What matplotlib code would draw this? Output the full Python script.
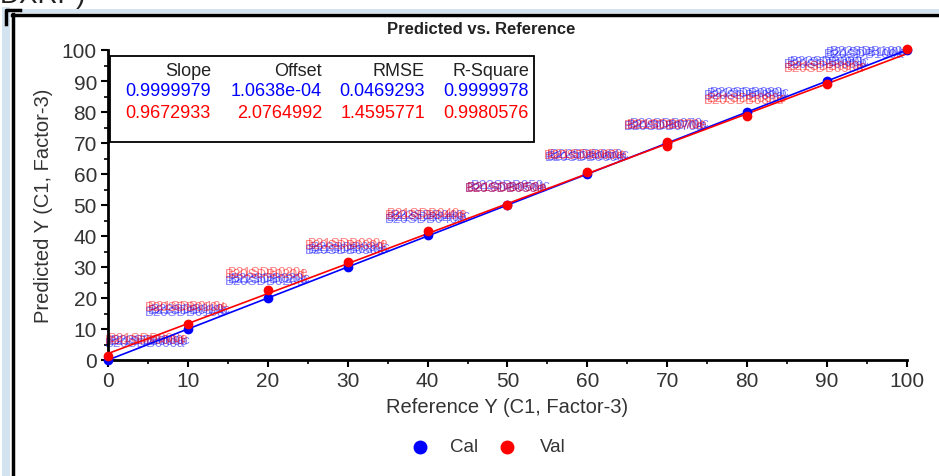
import matplotlib
matplotlib.use("Agg")
import matplotlib.pyplot as plt
from matplotlib.patches import Rectangle
from matplotlib.lines import Line2D
import numpy as np

# ---- data ----
ref_levels = [0, 10, 20, 30, 40, 50, 60, 70, 80, 90, 100]
cal_pred = [0.1, 10.1, 20.1, 30.0, 40.2, 50.0, 60.0, 70.0, 80.1, 90.1, 100.0]
val_ref = [0, 10, 20, 30, 40, 50, 60, 70, 70, 80, 90, 100]
val_pred = [1.2, 11.6, 22.5, 31.7, 41.5, 50.0, 60.6, 70.3, 68.9, 78.6, 88.9, 100.3]

cal_slope, cal_offset = 0.9999979, 1.0638e-04
val_slope, val_offset = 0.9672933, 2.0764992

stat_headers = ["Slope", "Offset", "RMSE", "R-Square"]
cal_stats = ["0.9999979", "1.0638e-04", "0.0469293", "0.9999978"]
val_stats = ["0.9672933", "2.0764992", "1.4595771", "0.9980576"]

cal_suffixes = ["a", "b", "c"]
val_suffixes = ["d", "e"]

x_ticks = [0, 10, 20, 30, 40, 50, 60, 70, 80, 90, 100]
y_ticks = [0, 10, 20, 30, 40, 50, 60, 70, 80, 90, 100]

BLUE = "#0000ff"
RED = "#ff0000"
TXT = "#333333"

W, H = 939, 477
fig = plt.figure(figsize=(W / 100, H / 100), dpi=100)
plt.rcParams['font.family'] = ['Liberation Sans', 'DejaVu Sans']

def fx(px):
    return px / W

def fy(py):
    return 1 - py / H

# ---- outer frame decorations ----
fig.patches.append(Rectangle((fx(20), fy(14)), fx(919), 4 / H, transform=fig.transFigure,
                             facecolor="#d4e3f0", edgecolor="none", zorder=0))
fig.patches.append(Rectangle((fx(2), 0), fx(8), fy(8), transform=fig.transFigure,
                             facecolor="#d4e3f0", edgecolor="none", zorder=0))
fig.lines.append(Line2D([fx(13), fx(13)], [0, fy(15)], transform=fig.transFigure,
                        color="black", lw=2.5))
fig.lines.append(Line2D([fx(12), 1], [fy(16), fy(16)], transform=fig.transFigure,
                        color="black", lw=2.5))
fig.lines.append(Line2D([fx(6), fx(6), fx(20)], [fy(25), fy(11), fy(11)], transform=fig.transFigure,
                        color="black", lw=2.5))
fig.text(fx(0), fy(-4), "DXRP)", fontsize=20, color="#222222", ha="left", va="center")

fig.text(fx(481), fy(30), "Predicted vs. Reference", fontsize=12, color="#222222",
         ha="center", va="center", fontweight="bold")

# ---- axes ----
ax = fig.add_axes([fx(108), fy(361), fx(907) - fx(108), fy(51) - fy(361)])
ax.set_xlim(0, 100)
ax.set_ylim(0, 100)
for s in ["top", "right"]:
    ax.spines[s].set_visible(False)
for s in ["left", "bottom"]:
    ax.spines[s].set_linewidth(2)
ax.set_xticks(x_ticks)
ax.set_yticks(y_ticks)
ax.set_xticks(np.arange(5, 100, 10), minor=True)
ax.set_yticks(np.arange(5, 100, 10), minor=True)
ax.tick_params(which="major", length=5, width=1.5, labelsize=15, labelcolor=TXT, pad=3)
ax.tick_params(which="minor", length=3, width=1.2)
ax.set_xlabel("Reference Y (C1, Factor-3)", fontsize=14.5, color=TXT, labelpad=5)
ax.set_ylabel("Predicted Y (C1, Factor-3)", fontsize=14.5, color=TXT, labelpad=6)

xx = np.array([0, 100])
ax.plot(xx, cal_slope * xx + cal_offset, color=BLUE, lw=1.2, zorder=3)
ax.plot(xx, val_slope * xx + val_offset, color=RED, lw=1.2, zorder=3)
ax.plot(ref_levels, cal_pred, "o", color=BLUE, ms=6, zorder=4, clip_on=False)
ax.plot(val_ref, val_pred, "o", color=RED, ms=6, zorder=5, clip_on=False)

# sample labels (overlapping names)
def add_labels(xs, ys, suffixes, color, dy):
    seen = set()
    for x, y in zip(xs, ys):
        if x in seen:
            continue
        seen.add(x)
        ha = "left" if x == 0 else ("right" if x == 100 else "center")
        base = -3 if x == 100 else dy
        for i, suf in enumerate(suffixes):
            name = "B2%dSDB%03d%s" % (i, x, suf)
            ax.annotate(name, (x, y), xytext=(i * 2 - 2, base + i * 1.2), textcoords="offset points",
                        ha=ha, va="center", fontsize=9.5, color=color, alpha=0.5, zorder=2)

add_labels(ref_levels, cal_pred, cal_suffixes, BLUE, 12)
add_labels(val_ref, val_pred, val_suffixes, RED, 12)

# ---- stats box ----
fig.patches.append(Rectangle((fx(110), fy(143)), fx(534) - fx(110), fy(57) - fy(143),
                             transform=fig.transFigure, facecolor="white", edgecolor="black",
                             lw=1.3, zorder=10))
col_right = [211, 322, 425, 529]
for j, xr in enumerate(col_right):
    fig.text(fx(xr), fy(72), stat_headers[j], fontsize=13, color="#222222", ha="right", va="center", zorder=11)
    fig.text(fx(xr), fy(92), cal_stats[j], fontsize=13, color=BLUE, ha="right", va="center", zorder=11)
    fig.text(fx(xr), fy(113), val_stats[j], fontsize=13, color=RED, ha="right", va="center", zorder=11)

# ---- legend ----
fig.lines.append(Line2D([fx(420)], [fy(448)], marker="o", ms=9, color=BLUE, transform=fig.transFigure))
fig.text(fx(450), fy(448), "Cal", fontsize=13.5, color=TXT, ha="left", va="center")
fig.lines.append(Line2D([fx(507)], [fy(448)], marker="o", ms=9, color=RED, transform=fig.transFigure))
fig.text(fx(540), fy(448), "Val", fontsize=13.5, color=TXT, ha="left", va="center")

fig.savefig("out.png", dpi=100)
